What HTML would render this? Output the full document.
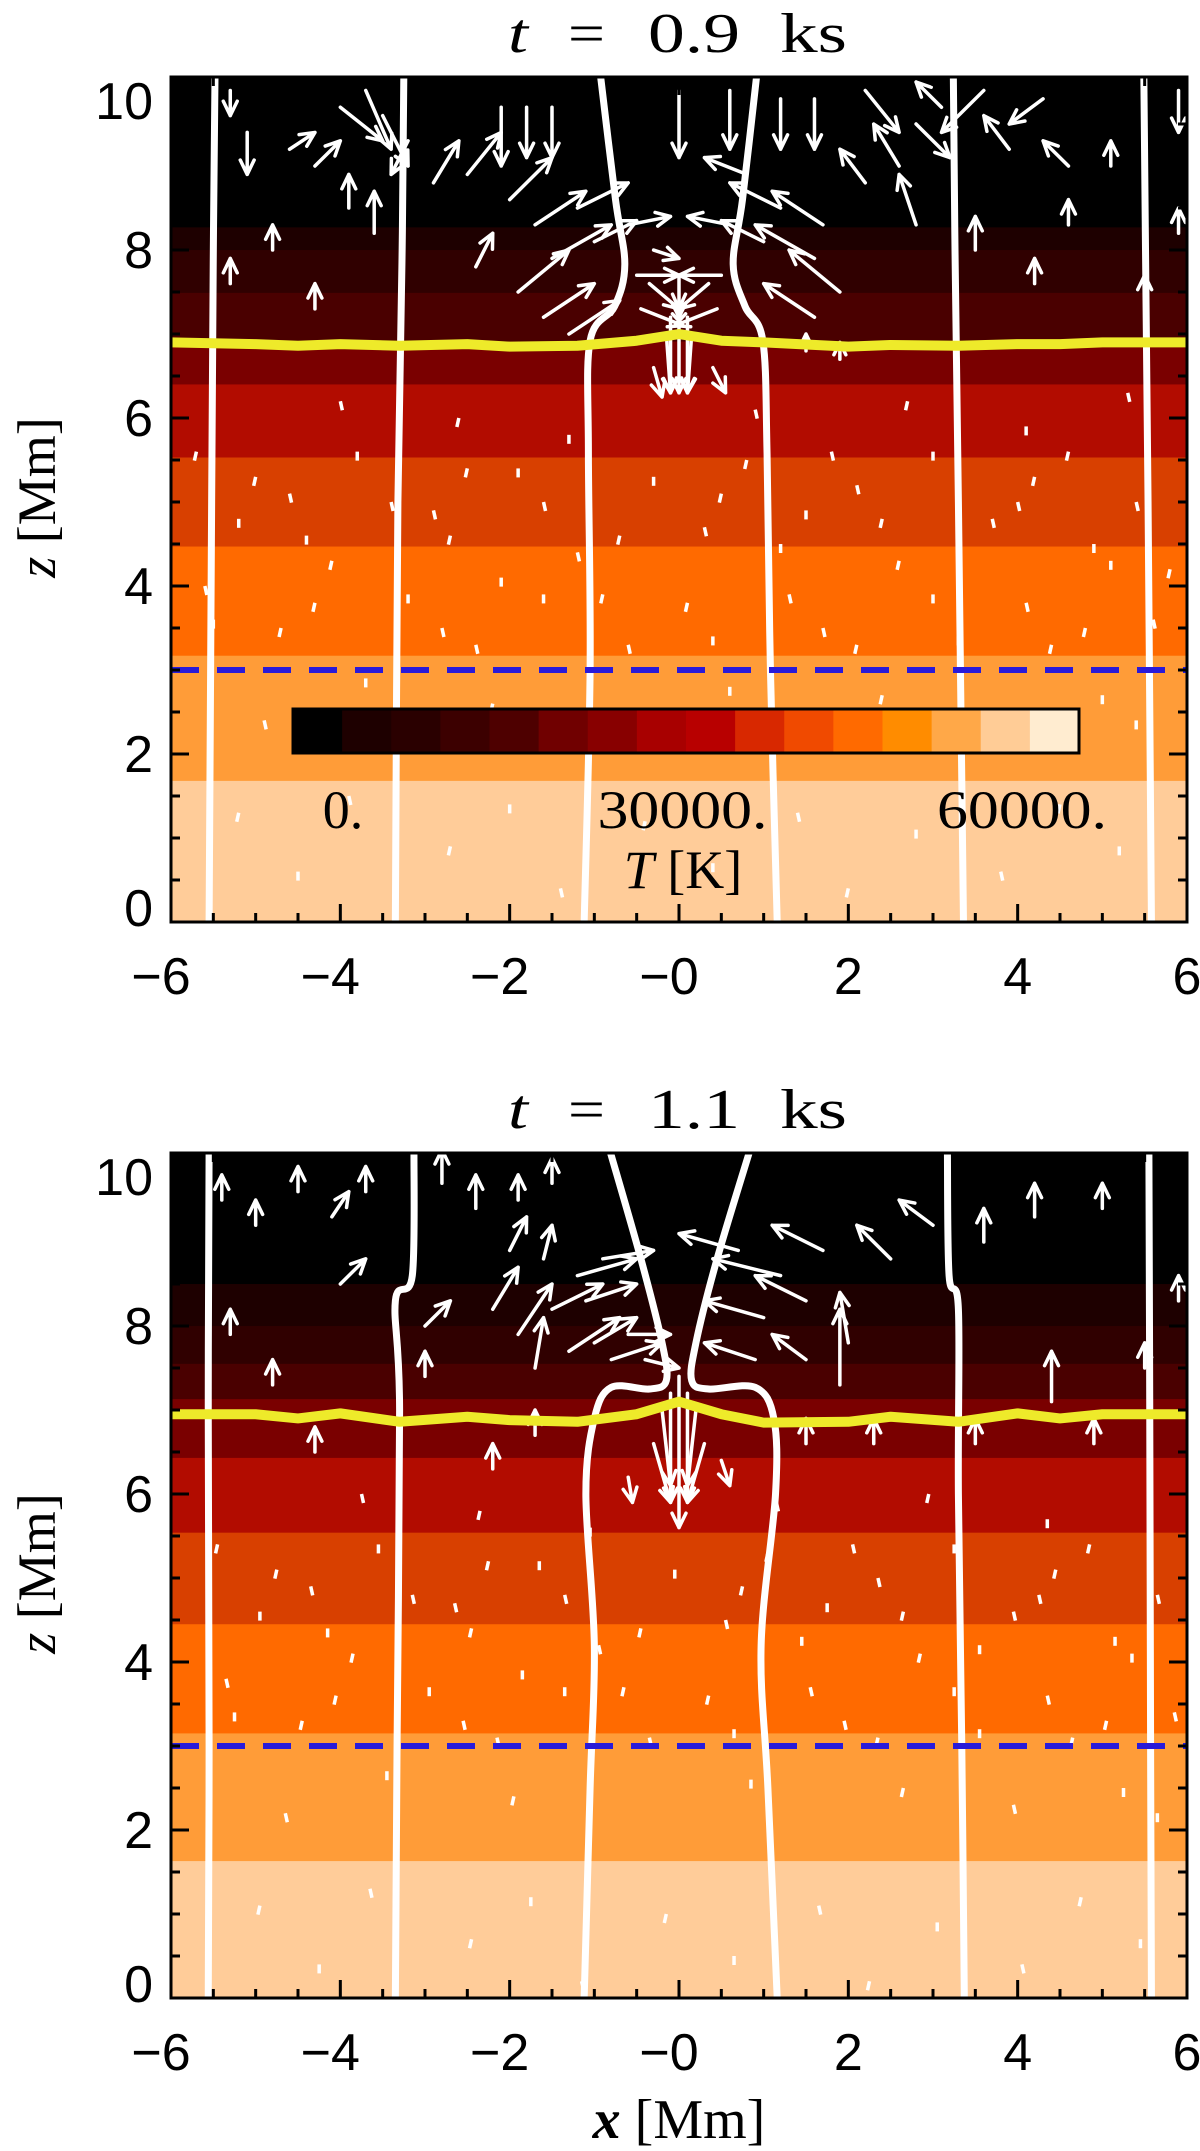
<!DOCTYPE html>
<html><head><meta charset="utf-8">
<style>
html,body{margin:0;padding:0;background:#fff;}
svg{display:block;}
text{font-family:"Liberation Serif",serif;fill:#000;}
.tick{font-family:"Liberation Sans",sans-serif;font-size:52px;}
</style></head>
<body>
<svg id="fig" width="1200" height="2151" viewBox="0 0 1200 2151" xmlns="http://www.w3.org/2000/svg"></svg>
<script>
// ---- data ----
const xTicks = [-6,-4,-2,0,2,4,6];
const xTickLabels = ["\u22126","\u22124","\u22122","\u22120","2","4","6"];
const zTicks = [0,2,4,6,8,10];
const zTickLabels = ["0","2","4","6","8","10"];
const cbarColors = ["#000000","#1e0000","#2a0000","#3c0000","#4e0000","#700000","#880000","#a80000","#b80000","#d82800","#f04a00","#ff6a00","#ff8c00","#ffa848","#ffcc96","#ffecd0"];
const cbarLabels = ["0.","30000.","60000."];
const cbarLabelVals = [0,30000,60000];
const bandColors = ["#000000","#1e0000","#300000","#4a0000","#7a0000","#b20c00","#d84000","#ff6a00","#ff9c38","#ffcc99"];
const bandTops1 = [10.1,8.27,8.0,7.49,6.91,6.40,5.53,4.47,3.17,1.68];
const bandTops2 = [10.1,8.5,8.0,7.55,7.13,6.43,5.54,4.45,3.15,1.63];
const yellowX = [-6,-5,-4.5,-4,-3.3,-2.5,-2,-1.2,-0.5,0,0.5,1,2,2.5,3.3,4,4.5,5,6];
const yellowZ1 = [6.9,6.88,6.86,6.88,6.86,6.88,6.85,6.86,6.92,7.0,6.92,6.9,6.85,6.87,6.86,6.88,6.88,6.9,6.9];
const yellowZ2 = [6.95,6.95,6.9,6.96,6.86,6.92,6.88,6.86,6.95,7.1,6.95,6.85,6.86,6.92,6.86,6.96,6.9,6.95,6.95];
const fieldLines1 = [
 [[-5.48,10.1],[-5.5,8],[-5.52,5],[-5.55,0]],
 [[-3.25,10.1],[-3.27,8],[-3.32,5],[-3.35,0]],
 [[-0.93,10.1],[-0.75,8.6],[-0.64,7.83],[-0.76,7.33],[-1.05,6.92],[-1.07,5.58],[-1.05,3],[-1.12,0]],
 [[0.92,10.1],[0.75,8.6],[0.64,7.83],[0.78,7.33],[0.99,6.92],[1.04,5.58],[1.08,3],[1.16,0]],
 [[3.24,10.1],[3.26,8],[3.3,5],[3.36,0]],
 [[5.49,10.1],[5.51,8],[5.54,5],[5.58,0]]
];
const fieldLines2 = [
 [[-5.55,10.1],[-5.56,7],[-5.55,3],[-5.56,0]],
 [[-3.13,10.1],[-3.15,8.6],[-3.35,8.3],[-3.3,7],[-3.33,3],[-3.35,0]],
 [[-0.82,10.1],[-0.45,8.8],[-0.2,7.8],[-0.15,7.35],[-0.35,7.25],[-0.8,7.27],[-1.0,6.9],[-1.1,6.0],[-1.0,4.2],[-1.05,2.5],[-1.12,0]],
 [[0.84,10.1],[0.45,8.8],[0.2,7.8],[0.15,7.35],[0.35,7.25],[0.9,7.27],[1.12,6.9],[1.14,6.0],[0.97,4.2],[1.05,2.5],[1.16,0]],
 [[3.17,10.1],[3.19,8.6],[3.3,8.2],[3.3,6],[3.34,3],[3.37,0]],
 [[5.55,10.1],[5.56,7],[5.57,3],[5.58,0]]
];
// arrows: [x, z, dx, dz] in Mm
const arrows1 = [
 [-5.3,9.9,0,-0.3],[-5.1,9.4,0,-0.5],[-4.6,9.2,0.3,0.2],[-4.3,9.0,0.3,0.3],[-4.0,9.7,0.5,-0.4],[-3.7,9.9,0.3,-0.7],[-3.5,9.6,0.3,-0.6],
 [-3.2,9.3,-0.2,-0.4],[-2.9,8.8,0.3,0.5],[-2.5,8.9,0.4,0.5],[-2.1,9.7,0,-0.7],[-1.8,9.7,0,-0.6],[-1.5,9.7,0,-0.6],[-2.0,8.6,0.5,0.5],
 [-1.7,8.3,0.6,0.4],[-1.5,7.9,0.7,0.4],[-1.9,7.5,0.6,0.5],[-1.6,7.2,0.6,0.4],[-1.3,7.0,0.6,0.4],[-1.2,8.5,0.6,0.3],[-1.0,8.1,0.5,0.25],
 [-0.6,8.3,0.5,0.1],[-0.5,7.7,0.5,0.0],[-0.45,7.3,0.5,-0.2],[-0.35,7.6,0.35,-0.3],[-0.3,8.0,0.3,-0.1],
 [1.9,7.5,-0.6,0.5],[1.6,7.2,-0.6,0.4],[1.6,7.9,-0.7,0.4],[1.7,8.3,-0.6,0.4],[1.2,8.5,-0.6,0.3],[1.0,8.1,-0.5,0.25],[0.8,8.9,-0.5,0.2],
 [0.6,8.3,-0.5,0.1],[0.5,7.7,-0.5,0.0],[0.45,7.3,-0.5,-0.2],[0.35,7.6,-0.35,-0.3],[2.2,8.8,-0.3,0.4],[2.6,9.0,-0.3,0.5],
 [0,7.7,0,-0.5],[0,7.4,0,-1.1],[-0.1,7.2,0,-0.9],[0.1,7.2,0,-0.9],[-0.15,7.0,0.05,-0.7],[0.15,7.0,-0.05,-0.7],[-0.3,6.6,0.1,-0.35],[0.4,6.6,0.15,-0.3],
 [0,9.9,0,-0.8],[0.6,9.9,0,-0.7],[1.2,9.8,0,-0.6],[1.6,9.8,0,-0.6],[2.2,9.9,0.4,-0.5],[2.8,9.5,0.4,-0.4],[3.1,9.7,-0.3,0.3],[3.6,9.9,-0.5,-0.5],
 [4.3,9.8,-0.4,-0.3],[3.9,9.2,-0.3,0.4],[4.6,9.0,-0.3,0.3],[5.9,9.9,0,-0.5],[5.1,9.0,0,0.3],[4.6,8.3,0,0.3],[4.2,7.6,0,0.3],[2.8,8.3,-0.2,0.6],
 [3.5,8.0,0,0.4],[-4.8,8.0,0,0.3],[-5.3,7.6,0,0.3],[-4.3,7.3,0,0.3],[-3.6,8.2,0,0.5],[-3.9,8.5,0,0.4],[-2.4,7.8,0.2,0.4],[1.5,6.8,0,0.2],
 [1.9,6.7,0,0.2],[5.5,7.4,0,0.3],[5.9,8.2,0,0.3]
];
const arrows2 = [
 [-5.4,9.5,0,0.3],[-5.0,9.2,0,0.3],[-4.5,9.6,0,0.3],[-4.1,9.3,0.2,0.3],[-3.7,9.6,0,0.3],[-2.8,9.7,0,0.4],[-2.4,9.4,0,0.4],
 [-1.9,9.5,0,0.3],[-1.5,9.7,0,0.3],[-2.0,8.9,0.2,0.4],[-1.6,8.8,0.1,0.4],[-2.2,8.2,0.3,0.5],[-4.0,8.5,0.3,0.3],[-3.0,8.0,0.3,0.3],
 [-1.9,7.9,0.4,0.6],[-1.7,7.5,0.1,0.6],[-1.5,8.2,0.6,0.3],[-1.2,8.6,0.7,0.2],[-1.1,8.3,0.6,0.2],[-0.9,8.8,0.6,0.1],[-1.3,7.7,0.6,0.4],
 [-1.0,7.8,0.5,0.3],[-0.8,7.6,0.6,0.2],[-0.6,7.9,0.5,0.0],[-0.4,7.6,0.4,-0.1],
 [0.7,8.9,-0.7,0.2],[1.2,8.6,-0.8,0.2],[1.5,8.3,-0.6,0.3],[1.0,8.1,-0.7,0.2],[0.9,7.6,-0.6,0.2],[1.5,7.6,-0.4,0.3],[1.7,8.9,-0.6,0.3],
 [1.9,7.3,0,0.9],[2.0,7.8,-0.1,0.6],[2.5,8.8,-0.4,0.4],[3.0,9.2,-0.4,0.3],[3.6,9.0,0,0.4],[4.2,9.3,0,0.4],[5.0,9.4,0,0.3],[4.4,7.1,0,0.6],
 [0,7.4,0,-1.8],[-0.1,7.2,0,-1.3],[0.1,7.2,0,-1.3],[-0.2,7.0,0.1,-0.9],[0.2,7.0,-0.1,-0.9],[-0.3,6.6,0.2,-0.7],[0.3,6.6,-0.2,-0.7],[0.5,6.4,0.1,-0.3],[-0.6,6.2,0.05,-0.3],
 [-5.3,7.9,0,0.3],[-4.8,7.3,0,0.3],[-4.3,6.5,0,0.3],[-3.0,7.4,0,0.3],[-1.7,6.7,0,0.3],[-2.2,6.3,0,0.3],[1.5,6.6,0,0.3],[2.3,6.6,0,0.3],
 [3.5,6.6,0,0.3],[4.9,6.6,0,0.3],[5.5,7.5,0,0.3],[5.9,8.3,0,0.3]
];
// speckle (tiny arrows) positions [x,z]
const speckle = [
 [-5.7,5.6],[-5.2,4.8],[-4.6,5.1],[-4.1,4.3],[-3.8,5.6],[-2.9,4.9],[-2.5,5.4],[-2.1,4.1],[-1.6,5.0],[-0.7,4.6],[-0.3,5.3],[0.3,4.7],[0.8,5.5],
 [1.5,4.9],[2.1,5.2],[2.6,4.3],[3.0,5.6],[3.7,4.8],[4.2,5.3],[4.9,4.5],[5.4,5.0],[5.8,4.2],[-5.5,3.6],[-4.9,2.4],[-4.3,3.8],[-3.7,2.9],
 [-2.8,3.5],[-2.2,2.6],[-1.6,3.9],[-0.6,3.3],[0.1,3.8],[0.6,2.8],[1.7,3.5],[2.4,2.7],[3.0,3.9],[3.7,2.5],[4.4,3.3],[5.0,2.7],[5.6,3.6],
 [-5.2,1.3],[-4.5,0.6],[-3.9,1.5],[-2.7,0.9],[-2.0,1.4],[-1.4,0.4],[-0.4,1.2],[0.4,0.7],[1.4,1.3],[2.0,0.4],[2.8,1.1],[3.8,0.6],[4.5,1.4],[5.2,0.9],
 [-4.0,6.2],[-2.6,6.0],[-1.3,5.8],[0.9,6.1],[2.7,6.2],[4.1,5.9],[5.3,6.3],
 [-5.0,5.3],[-4.4,4.6],[-3.4,5.0],[-2.7,4.6],[-1.9,5.4],[-1.2,4.4],[0.5,5.1],[1.2,4.5],[1.8,5.6],[2.4,4.8],[3.3,4.4],[4.0,5.0],[4.6,5.6],[5.1,4.3],
 [-5.6,4.0],[-4.7,3.5],[-3.2,3.9],[-2.4,3.3],[-0.9,3.9],[0.4,3.4],[1.3,3.9],[2.1,3.3],[3.3,3.4],[4.1,3.8],[4.8,3.5],[5.4,2.4]
];
// ---- layout ----
const NS = "http://www.w3.org/2000/svg";
const svg = document.getElementById('fig');
const L = 171, R = 1187;
const panels = [
 {top:77,bottom:922,title:"0.9",bands:bandTops1,yz:yellowZ1,fl:fieldLines1,ar:arrows1,cbar:true,xlab:false},
 {top:1153,bottom:1998,title:"1.1",bands:bandTops2,yz:yellowZ2,fl:fieldLines2,ar:arrows2,cbar:false,xlab:true}
];
function el(tag, attrs, parent){ const e=document.createElementNS(NS,tag); for(const k in attrs) e.setAttribute(k,attrs[k]); (parent||svg).appendChild(e); return e; }
panels.forEach((p,pi)=>{
 const zMax = 10.06;
 const X = x => L + (x+6)/12*(R-L);
 const Z = z => p.bottom - z/zMax*(p.bottom-p.top);
 const g = el('g',{});
 
 
 const clipId='clip'+pi;
 const cp = el('clipPath',{id:clipId},g); el('rect',{x:L,y:p.top,width:R-L,height:p.bottom-p.top},cp);
 const inner = el('g',{'clip-path':'url(#'+clipId+')'},g);
 p.bands.forEach((zt,i)=>{
  const zb = i+1<p.bands.length ? p.bands[i+1] : 0;
  const r = el('rect',{x:L,y:Z(Math.min(zt,zMax)),width:R-L,height:Z(zb)-Z(Math.min(zt,zMax))+0.5,fill:bandColors[i]},inner);
  
  
 });
 speckle.forEach((s,i)=>{
  const sx = s[0] + (pi? 0.25:0), sz = s[1] + (pi? -0.2:0);
  const l = el('line',{x1:X(sx),y1:Z(sz),x2:X(sx)+(i%3-1)*2,y2:Z(sz)+9,stroke:'#fff','stroke-width':3.5},inner);
  
  
 });
 p.ar.forEach(a=>{
  const x1=X(a[0]),y1=Z(a[1]),x2=X(a[0]+a[2]),y2=Z(a[1]+a[3]);
  const ang=Math.atan2(y2-y1,x2-x1), h=Math.min(16,Math.hypot(x2-x1,y2-y1)*0.4+7);
  const d=`M${x1},${y1}L${x2},${y2}M${x2-h*Math.cos(ang-0.45)},${y2-h*Math.sin(ang-0.45)}L${x2},${y2}L${x2-h*Math.cos(ang+0.45)},${y2-h*Math.sin(ang+0.45)}`;
  const pa = el('path',{d:d,stroke:'#fff','stroke-width':3.5,fill:'none','stroke-linecap':'round','stroke-linejoin':'round'},inner);
  
  
 });
 p.fl.forEach(line=>{
  const pts=line.map(q=>[X(q[0]),Z(q[1])]);
  let d='M'+pts[0];
  for(let i=0;i<pts.length-1;i++){
   const p0=pts[Math.max(0,i-1)],p1=pts[i],p2=pts[i+1],p3=pts[Math.min(pts.length-1,i+2)];
   const c1=[p1[0]+(p2[0]-p0[0])/6,p1[1]+(p2[1]-p0[1])/6], c2=[p2[0]-(p3[0]-p1[0])/6,p2[1]-(p3[1]-p1[1])/6];
   d+=`C${c1} ${c2} ${p2}`;
  }
  const fpath = el('path',{d:d,stroke:'#fff','stroke-width':7,fill:'none'},inner);
  
  
 });
 const yl = el('polyline',{points:yellowX.map((x,i)=>X(x)+','+Z(p.yz[i])).join(' '),stroke:'#eeea2a','stroke-width':10,fill:'none','stroke-linejoin':'round'},inner);
 
 
 const bl = el('line',{x1:L,x2:R,y1:Z(3.0),y2:Z(3.0),stroke:'#2a1ad8','stroke-width':6,'stroke-dasharray':'28,18'},inner);
 
 
 if(p.cbar){
  const cx0=293,cx1=1079,cy0=709,cy1=753,w=(cx1-cx0)/cbarColors.length;
  const cg = el('g',{},g);
  
  
  cbarColors.forEach((c,i)=>{ el('rect',{x:cx0+i*w,y:cy0,width:w+0.5,height:cy1-cy0,fill:c},cg); });
  el('rect',{x:cx0,y:cy0,width:cx1-cx0,height:cy1-cy0,fill:'none',stroke:'#000','stroke-width':3},cg);
  cbarLabelVals.forEach((v,i)=>{
   const tx = 343 + v/60000*(1022-343);
   const t = el('text',{x:tx,y:828,'text-anchor':'middle','font-size':54},cg);
   t.textContent=cbarLabels[i];
   if(i>0){ t.setAttribute('textLength',170); t.setAttribute('lengthAdjust','spacingAndGlyphs'); }
   
   
  });
  const tt = el('text',{x:683,y:888,'text-anchor':'middle','font-size':54},cg);
  tt.innerHTML='<tspan font-style="italic">T</tspan>\u00a0[K]';
  
  
 }
 const fr = el('rect',{x:L,y:p.top,width:R-L,height:p.bottom-p.top,fill:'none',stroke:'#000','stroke-width':3},g);
 
 
 let td='';
 for(let x=-6;x<=6.001;x+=0.5){ const len = Math.abs(x-Math.round(x/2)*2)<1e-6?18:9; td+=`M${X(x)},${p.bottom}v${-len}M${X(x)},${p.top}v${len}`; }
 for(let z=0;z<=10.001;z+=0.5){ const len = Math.abs(z-Math.round(z/2)*2)<1e-6?18:9; td+=`M${L},${Z(z)}h${len}M${R},${Z(z)}h${-len}`; }
 const tk = el('path',{d:td,stroke:'#000','stroke-width':3},g);
 
 
 xTicks.forEach((v,i)=>{
  const t = el('text',{x:X(v)+(v<0||i===3?-10:0),y:p.bottom+72,'text-anchor':'middle',class:'tick'},g);
  t.textContent=xTickLabels[i];
  
  
 });
 zTicks.forEach((v,i)=>{
  let y = Z(v)+18;
  if(v===0) y = p.bottom+4;
  if(v===10) y = p.top+42;
  const t = el('text',{x:153,y:y,'text-anchor':'end',class:'tick'},g);
  t.textContent=zTickLabels[i];
  
  
 });
 const yc=(p.top+p.bottom)/2-2;
 const yt = el('text',{x:0,y:0,'text-anchor':'middle','font-size':54,transform:`translate(55,${yc}) rotate(-90)`},g);
 yt.innerHTML='<tspan font-style="italic">z</tspan>\u00a0[Mm]';
 
 
 const tg = el('g',{},g);
 
 
 const tby = p.top-25;
 const parts = [["t",508,20,true],["=",568,37,false],[p.title,648,92,false],["ks",780,67,false]];
 parts.forEach(q=>{
  const t = el('text',{x:q[1],y:tby,'font-size':56,textLength:q[2],lengthAdjust:'spacingAndGlyphs'},tg);
  if(q[3]) t.setAttribute('font-style','italic');
  t.textContent=q[0];
 });
 if(p.xlab){
  const xt = el('text',{x:679,y:2138,'text-anchor':'middle','font-size':56},g);
  xt.innerHTML='<tspan font-style="italic" font-weight="bold">x</tspan>\u00a0[Mm]';
  
  
 }
});
</script>
</body></html>
